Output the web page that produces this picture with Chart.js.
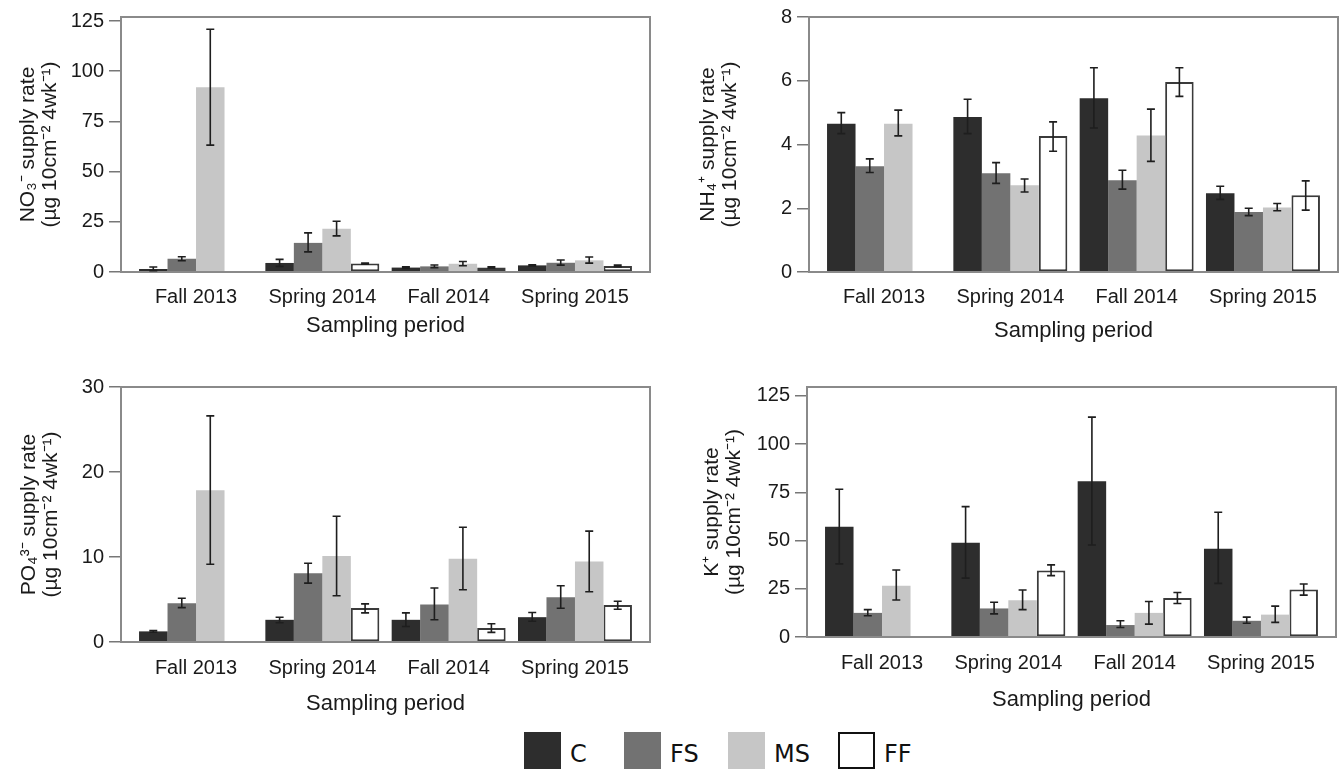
<!DOCTYPE html>
<html>
<head>
<meta charset="utf-8">
<script src="https://cdn.jsdelivr.net/npm/chart.js@4.4.1/dist/chart.umd.min.js"></script>
<style>
html,body{margin:0;padding:0;background:#fff;}
body{width:1342px;height:770px;overflow:hidden;position:relative;}
.panel{position:absolute;}
.lg-box{position:absolute;width:37px;height:37px;box-sizing:border-box;}
.lg-txt{position:absolute;font-family:"DejaVu Sans",sans-serif;font-size:24px;color:#111;line-height:28px;}
</style>
</head>
<body>
<div class="panel" style="left:0px;top:0px;width:671px;height:350px"><canvas id="c0"></canvas></div>
<div class="panel" style="left:670px;top:0px;width:672px;height:350px"><canvas id="c1"></canvas></div>
<div class="panel" style="left:0px;top:370px;width:671px;height:350px"><canvas id="c2"></canvas></div>
<div class="panel" style="left:670px;top:370px;width:672px;height:350px"><canvas id="c3"></canvas></div>
<div id="legend"></div>
<script>
// ---------------- DATA ----------------
const categories = ['Fall 2013', 'Spring 2014', 'Fall 2014', 'Spring 2015'];
const treatments = ['C', 'FS', 'MS', 'FF'];

// NO3- (rows: C, FS, MS, FF; columns: categories)
const no3Mean = [[1.5, 4.5, 2.2, 3.3], [6.6, 14.5, 2.8, 4.6], [92, 21.5, 4.1, 5.8], [null, 4.2, 2.3, 3.0]];
const no3Lo   = [[0.7, 2.8, 1.8, 3.0], [5.6, 10.0, 2.2, 3.4], [63.2, 18.0, 3.1, 4.4], [null, 3.9, 2.0, 2.6]];
const no3Hi   = [[2.5, 6.3, 2.6, 3.6], [7.6, 19.5, 3.5, 6.0], [120.9, 25.3, 5.2, 7.5], [null, 4.5, 2.6, 3.4]];

// NH4+
const nh4Mean = [[4.65, 4.86, 5.45, 2.47], [3.32, 3.10, 2.88, 1.88], [4.65, 2.72, 4.28, 2.02], [null, 4.27, 5.96, 2.41]];
const nh4Lo   = [[4.34, 4.34, 4.52, 2.28], [3.12, 2.78, 2.60, 1.77], [4.27, 2.51, 3.47, 1.92], [null, 3.79, 5.51, 1.94]];
const nh4Hi   = [[5.00, 5.42, 6.41, 2.69], [3.55, 3.43, 3.19, 2.00], [5.08, 2.92, 5.11, 2.15], [null, 4.71, 6.41, 2.86]];

// PO4 3-
const po4Mean = [[1.25, 2.61, 2.61, 2.92], [4.56, 8.10, 4.40, 5.26], [17.84, 10.13, 9.78, 9.47], [null, 4.01, 1.64, 4.36]];
const po4Lo   = [[1.15, 2.26, 1.83, 2.45], [4.05, 6.93, 2.61, 3.97], [9.15, 5.45, 6.15, 5.92], [null, 3.43, 1.13, 3.86]];
const po4Hi   = [[1.35, 2.92, 3.43, 3.47], [5.14, 9.27, 6.35, 6.62], [26.6, 14.8, 13.5, 13.05], [null, 4.48, 2.14, 4.79]];

// K+
const kMean = [[57.1, 48.9, 80.7, 45.7], [12.5, 14.8, 6.2, 8.4], [26.6, 19.0, 12.5, 11.6], [null, 34.5, 20.2, 24.6]];
const kLo   = [[37.9, 30.5, 47.7, 27.8], [11.0, 12.0, 4.9, 7.1], [19.2, 14.2, 6.7, 7.6], [null, 31.8, 17.4, 21.7]];
const kHi   = [[76.6, 67.6, 114.0, 64.7], [14.2, 18.0, 8.4, 10.3], [34.7, 24.4, 18.4, 16.0], [null, 37.4, 23.1, 27.5]];

// axis titles and y-axis ranges
const yTitles = [
  ['NO\u2083\u207B supply rate', '(\u00B5g 10cm\u207B\u00B2 4wk\u207B\u00B9)'],
  ['NH\u2084\u207A supply rate', '(\u00B5g 10cm\u207B\u00B2 4wk\u207B\u00B9)'],
  ['PO\u2084\u00B3\u207B supply rate', '(\u00B5g 10cm\u207B\u00B2 4wk\u207B\u00B9)'],
  ['K\u207A supply rate', '(\u00B5g 10cm\u207B\u00B2 4wk\u207B\u00B9)']
];
const xTitle = 'Sampling period';
const yMax = [127, 8, 30, 129.6];
const yStep = [25, 2, 10, 25];

// ---------------- STYLE / LAYOUT ----------------
const fills = ['#2d2d2d', '#727272', '#c6c6c6', '#ffffff'];
const layouts = [
  {T: 15, R: 21, W: 121, H: 78, tp: 17, lp: 13, pb: 11},
  {T: 15, R: 4,  W: 139, H: 78, tp: 27, lp: 13, pb: 6},
  {T: 15, R: 21, W: 121, H: 78, tp: 18, lp: 14, pb: 3},
  {T: 11, R: 6,  W: 137, H: 83, tp: 31, lp: 14, pb: 7}
];

Chart.defaults.font.family = '"Liberation Sans", Arial, Helvetica, sans-serif';
Chart.defaults.color = '#1a1a1a';

const framePlugin = {
  id: 'frame',
  afterDatasetsDraw(chart) {
    const {ctx, chartArea: a} = chart;
    ctx.save();
    ctx.strokeStyle = '#8a8a8a';
    ctx.lineWidth = 2;
    ctx.strokeRect(a.left, a.top, a.right - a.left, a.bottom - a.top);
    ctx.restore();
  }
};

const errorPlugin = {
  id: 'errorBars',
  afterDatasetsDraw(chart) {
    const {ctx} = chart;
    const y = chart.scales.y;
    ctx.save();
    ctx.strokeStyle = '#1e1e1e';
    ctx.lineWidth = 1.6;
    chart.data.datasets.forEach((ds, i) => {
      const meta = chart.getDatasetMeta(i);
      meta.data.forEach((bar, j) => {
        const lo = ds.errLo[j], hi = ds.errHi[j];
        if (lo == null || hi == null) return;
        const x = bar.x;
        const y1 = y.getPixelForValue(lo), y2 = y.getPixelForValue(hi);
        ctx.beginPath();
        ctx.moveTo(x, y1); ctx.lineTo(x, y2);
        ctx.moveTo(x - 4, y1); ctx.lineTo(x + 4, y1);
        ctx.moveTo(x - 4, y2); ctx.lineTo(x + 4, y2);
        ctx.stroke();
      });
    });
    ctx.restore();
  }
};

const panelData = [
  [no3Mean, no3Lo, no3Hi],
  [nh4Mean, nh4Lo, nh4Hi],
  [po4Mean, po4Lo, po4Hi],
  [kMean, kLo, kHi]
];

panelData.forEach(([mean, lo, hi], p) => {
  const L = layouts[p];
  const datasets = treatments.map((t, s) => ({
    label: t,
    data: mean[s].map((v, j) => ({x: j, y: v})),
    errLo: lo[s],
    errHi: hi[s],
    backgroundColor: fills[s],
    borderColor: s === 3 ? '#3a3a3a' : fills[s],
    borderWidth: s === 3 ? 2 : 0,
    borderSkipped: false,
    barPercentage: 1.0,
    categoryPercentage: 0.9024
  }));
  new Chart(document.getElementById('c' + p), {
    type: 'bar',
    data: {datasets},
    options: {
      responsive: true,
      maintainAspectRatio: false,
      animation: false,
      layout: {padding: {left: 0, top: L.T, right: L.R, bottom: 0}},
      plugins: {legend: {display: false}, tooltip: {enabled: false}},
      scales: {
        x: {
          type: 'linear',
          min: -0.594,
          max: 3.594,
          offset: false,
          grid: {display: false, drawTicks: false},
          border: {display: false},
          ticks: {
            stepSize: 1,
            includeBounds: false,
            autoSkip: false,
            maxRotation: 0,
            padding: L.lp,
            font: {size: 20},
            color: '#1a1a1a',
            callback: (v) => (Number.isInteger(v) && categories[v] !== undefined) ? categories[v] : ''
          },
          title: {
            display: true,
            text: xTitle,
            font: {size: 22, lineHeight: 1.2},
            color: '#1a1a1a',
            padding: {top: 0, bottom: L.pb}
          },
          afterFit: (s) => { s.height = L.H; }
        },
        y: {
          min: 0,
          max: yMax[p],
          grid: {display: true, drawOnChartArea: false, drawTicks: true, tickLength: 12, color: '#777', lineWidth: 1.5},
          border: {display: false},
          ticks: {stepSize: yStep[p], includeBounds: false, padding: 5, font: {size: 20}, color: '#1a1a1a'},
          title: {
            display: true,
            text: yTitles[p],
            font: {size: 21, lineHeight: 1.05},
            color: '#1a1a1a',
            padding: {top: L.tp, bottom: 0}
          },
          afterFit: (s) => { s.width = L.W; }
        }
      }
    },
    plugins: [framePlugin, errorPlugin]
  });
});

// ---------------- LEGEND ----------------
const legendLeft = [524, 624, 728, 838];
const legend = document.getElementById('legend');
treatments.forEach((t, s) => {
  const box = document.createElement('div');
  box.className = 'lg-box';
  box.style.left = legendLeft[s] + 'px';
  box.style.top = '732px';
  box.style.background = fills[s];
  if (s === 3) box.style.border = '2px solid #111';
  legend.appendChild(box);
  const txt = document.createElement('div');
  txt.className = 'lg-txt';
  txt.style.left = (legendLeft[s] + 46) + 'px';
  txt.style.top = '740px';
  txt.textContent = t;
  legend.appendChild(txt);
});
</script>
</body>
</html>
